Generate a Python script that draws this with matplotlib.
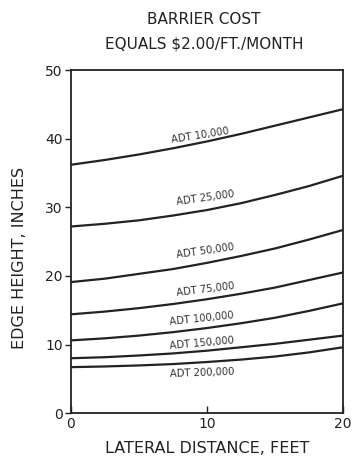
import matplotlib
matplotlib.use("Agg")
import matplotlib.pyplot as plt

# Data
distance_ft = [0, 2.5, 5, 7.5, 10, 12.5, 15, 17.5, 20]
adt_10000 = [36.2, 36.9, 37.7, 38.6, 39.6, 40.7, 41.9, 43.1, 44.3]
adt_25000 = [27.2, 27.6, 28.1, 28.8, 29.6, 30.6, 31.8, 33.1, 34.6]
adt_50000 = [19.1, 19.6, 20.3, 21.0, 21.9, 22.9, 24.0, 25.3, 26.7]
adt_75000 = [14.4, 14.8, 15.3, 15.9, 16.6, 17.4, 18.3, 19.4, 20.5]
adt_100000 = [10.6, 10.9, 11.3, 11.8, 12.4, 13.1, 13.9, 14.9, 16.0]
adt_150000 = [8.0, 8.15, 8.4, 8.7, 9.1, 9.6, 10.1, 10.7, 11.3]
adt_200000 = [6.7, 6.8, 6.95, 7.15, 7.45, 7.8, 8.25, 8.85, 9.6]

series = [adt_10000, adt_25000, adt_50000, adt_75000, adt_100000, adt_150000, adt_200000]
labels = ["ADT 10,000", "ADT 25,000", "ADT 50,000", "ADT 75,000",
          "ADT 100,000", "ADT 150,000", "ADT 200,000"]
label_x = [9.5, 9.85, 9.85, 9.85, 9.6, 9.6, 9.6]
label_y = [40.4, 31.4, 23.6, 18.0, 13.7, 10.2, 5.8]
label_rot = [9, 8, 8, 7, 6, 5, 2]

x_ticks = [0, 10, 20]
y_ticks = [0, 10, 20, 30, 40, 50]

plt.rcParams['font.family'] = ['DejaVu Sans']
fig = plt.figure(figsize=(3.53, 4.58), dpi=100)
ax = fig.add_axes([0.201, 0.098, 0.771, 0.749])

ink = "#222222"
for ys in series:
    ax.plot(distance_ft, ys, color=ink, lw=1.6, solid_capstyle='butt')

for lab, lx, ly, rot in zip(labels, label_x, label_y, label_rot):
    ax.text(lx, ly, lab, fontsize=7.2, color="#333333", ha='center', va='center',
            rotation=rot, rotation_mode='anchor')

ax.set_xlim(0, 20)
ax.set_ylim(0, 50)
ax.set_xticks(x_ticks)
ax.set_yticks(y_ticks)
ax.tick_params(axis='x', direction='in', length=5, width=1, labelsize=10,
               colors=ink, pad=3)
ax.tick_params(axis='y', direction='out', length=4, width=1, labelsize=10,
               colors=ink, pad=2)
for s in ax.spines.values():
    s.set_linewidth(1.3)
    s.set_color(ink)

ax.set_xlabel("LATERAL DISTANCE, FEET", fontsize=11.5, color=ink, labelpad=7)
fig.text(20 / 353, 1 - 258 / 458, "EDGE HEIGHT, INCHES", fontsize=11.5, color=ink,
         rotation=90, ha='center', va='center')

fig.text(0.578, 0.957, "BARRIER COST", fontsize=11, color=ink, ha='center', va='center')
fig.text(0.578, 0.904, "EQUALS $2.00/FT./MONTH", fontsize=11, color=ink, ha='center', va='center')

fig.savefig("out.png", dpi=100, facecolor='white')
